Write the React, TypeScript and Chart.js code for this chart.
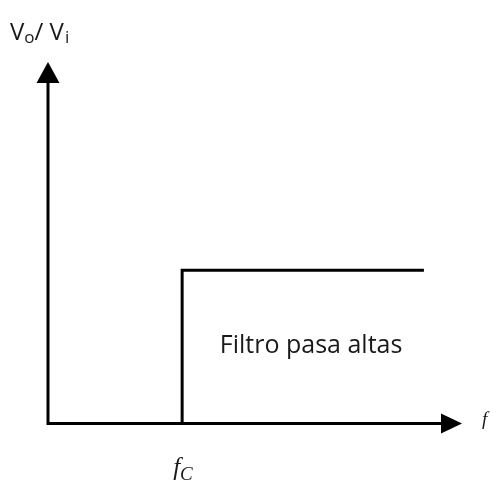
import React, { useEffect, useRef } from "react";
import { Chart, registerables } from "chart.js";

Chart.register(...registerables);

// Axis extents (normalised frequency / gain units)
const xAxisMax = 10;
const yAxisMax = 2.36;
const xAxisLineEnd = 9.55;
const yAxisLineEnd = 2.24;

// Ideal high-pass response
const cutoffFreq = 3.24;
const passbandEnd = 9.08;
const responseFreq = [cutoffFreq, cutoffFreq, passbandEnd];
const responseGain = [0, 1, 1];

// Axis lines (L shape)
const axisX = [0, 0, xAxisLineEnd];
const axisY = [yAxisLineEnd, 0, 0];

// Text
const filterLabel = "Filtro pasa altas";
const filterLabelPos = { x: 4.15, y: 0.46 };
const xAxisLabel = "f";
const cutoffLabel = "f";
const cutoffSub = "C";
const yLabelMain = ["V", "/ V"];
const yLabelSubs = ["o", "i"];

const TEXT_COLOR = "#1a1a1a";
const LINE_COLOR = "#000000";

const decorations = {
  id: "decorations",
  afterDatasetsDraw(chart: any) {
    const { ctx, scales } = chart;
    const xs = scales.x;
    const ys = scales.y;
    ctx.save();
    ctx.fillStyle = LINE_COLOR;
    // x arrow
    const xTip = xs.getPixelForValue(xAxisMax);
    const x0y = ys.getPixelForValue(0);
    ctx.beginPath();
    ctx.moveTo(xTip, x0y);
    ctx.lineTo(xTip - 21, x0y - 10);
    ctx.lineTo(xTip - 21, x0y + 10);
    ctx.closePath();
    ctx.fill();
    // y arrow
    const yTip = ys.getPixelForValue(yAxisMax);
    const y0x = xs.getPixelForValue(0);
    ctx.beginPath();
    ctx.moveTo(y0x, yTip);
    ctx.lineTo(y0x - 11.5, yTip + 21);
    ctx.lineTo(y0x + 11.5, yTip + 21);
    ctx.closePath();
    ctx.fill();

    // labels
    ctx.fillStyle = TEXT_COLOR;
    ctx.textBaseline = "alphabetic";
    ctx.textAlign = "left";
    ctx.font = '25px "Open Sans"';
    ctx.fillText(
      filterLabel,
      xs.getPixelForValue(filterLabelPos.x),
      ys.getPixelForValue(filterLabelPos.y)
    );

    // y label Vo/ Vi
    let cx = 10;
    ctx.font = '24px "Open Sans"';
    ctx.fillText(yLabelMain[0], cx, 40);
    cx += ctx.measureText(yLabelMain[0]).width;
    ctx.font = '17px "Open Sans"';
    ctx.fillText(yLabelSubs[0], cx, 43);
    cx += ctx.measureText(yLabelSubs[0]).width;
    ctx.font = '24px "Open Sans"';
    ctx.fillText(yLabelMain[1], cx, 40);
    cx += ctx.measureText(yLabelMain[1]).width;
    ctx.font = '17px "Open Sans"';
    ctx.fillText(yLabelSubs[1], cx + 1, 43);

    // f label at x arrow
    ctx.font = 'italic 19px "Liberation Serif"';
    ctx.fillText(xAxisLabel, xTip + 20, x0y + 1);

    // fc label
    const fcx = xs.getPixelForValue(cutoffFreq);
    ctx.font = 'italic 25px "Liberation Serif"';
    const fw = ctx.measureText(cutoffLabel).width;
    ctx.fillText(cutoffLabel, fcx - 9, 475);
    ctx.font = 'italic 19px "Liberation Serif"';
    ctx.fillText(cutoffSub, fcx - 9 + fw, 480);
    ctx.restore();
  },
};

export default function App() {
  const ref = useRef<HTMLCanvasElement | null>(null);
  useEffect(() => {
    if (!ref.current) return;
    const chart = new Chart(ref.current, {
      type: "line",
      data: {
        datasets: [
          {
            label: "axes",
            data: axisX.map((x, i) => ({ x, y: axisY[i] })),
            borderColor: LINE_COLOR,
            borderWidth: 3,
            borderJoinStyle: "miter",
            pointRadius: 0,
            fill: false,
            tension: 0,
            clip: false,
          },
          {
            label: "response",
            data: responseFreq.map((x, i) => ({ x, y: responseGain[i] })),
            borderColor: LINE_COLOR,
            borderWidth: 3,
            borderJoinStyle: "miter",
            pointRadius: 0,
            fill: false,
            tension: 0,
            clip: false,
          },
        ],
      },
      options: {
        animation: false,
        responsive: false,
        maintainAspectRatio: false,
        layout: { padding: { left: 48, right: 41, top: 62, bottom: 60.5 } },
        scales: {
          x: { type: "linear", min: 0, max: xAxisMax, display: false },
          y: { type: "linear", min: 0, max: yAxisMax, display: false },
        },
        plugins: {
          legend: { display: false },
          tooltip: { enabled: false },
        },
      },
      plugins: [decorations],
    } as any);
    return () => chart.destroy();
  }, []);
  return (
    <div style={{ position: "fixed", left: 0, top: 0, width: 503, height: 484, background: "#fff" }}>
      <canvas ref={ref} width={503} height={484} style={{ width: 503, height: 484 }} />
    </div>
  );
}
